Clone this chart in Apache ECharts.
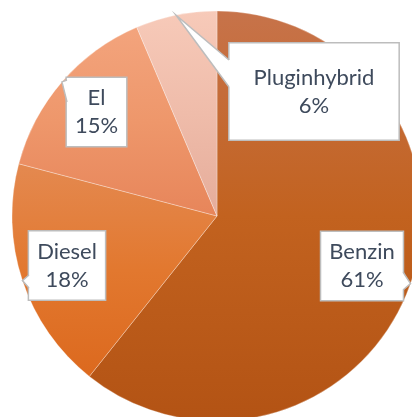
<!DOCTYPE html>
<html>
<head>
<meta charset="utf-8">
<script src="https://cdn.jsdelivr.net/npm/echarts@6/dist/echarts.min.js"></script>
<style>
  html, body { margin: 0; padding: 0; background: #fff; }
  #main { width: 412px; height: 417px; }
</style>
</head>
<body>
<div id="main"></div>
<script>
var categories = ['Benzin', 'Diesel', 'El', 'Pluginhybrid'];
var shares = [60.7, 18.4, 14.5, 6.4];

// slice gradients, top -> middle -> bottom
var topColors = ['#C7734A', '#E48950', '#F3A47D', '#F7CAB9'];
var midColors = ['#C2621F', '#E2782F', '#EE976B', '#EFBCAA'];
var bottomColors = ['#B35314', '#DC691E', '#E7855A', '#E5AC9A'];

// callout boxes: centre, padding, pointer base (offsets from centre)
var boxes = [
  { x: 362, y: 266, pad: [6, 8], base: [[41, 6], [41, 24]] },
  { x: 67, y: 265.5, pad: [6, 8], base: [[-38, 9.5], [-38, 22.5]] },
  { x: 96.5, y: 112, pad: [6, 8], base: [[-29.5, -32], [-29.5, -10]] },
  { x: 314, y: 91.5, pad: [20, 24], base: [[-85, -31.5], [-85, -4.5]] }
];

var chartDom = document.getElementById('main');
var myChart = echarts.init(chartDom);
var option;

var seriesData = categories.map(function (name, i) {
  return {
    name: name,
    value: shares[i],
    itemStyle: {
      color: {
        type: 'linear',
        x: 0, y: 0, x2: 0, y2: 1,
        colorStops: [
          { offset: 0, color: topColors[i] },
          { offset: 0.5, color: midColors[i] },
          { offset: 1, color: bottomColors[i] }
        ]
      }
    },
    label: { padding: boxes[i].pad }
  };
});

option = {
  animation: false,
  backgroundColor: '#fff',
  series: [
    {
      type: 'pie',
      center: [217, 216],
      radius: 205,
      startAngle: 90,
      clockwise: true,
      percentPrecision: 0,
      data: seriesData,
      itemStyle: {
        borderColor: 'rgba(255,255,255,0.5)',
        borderWidth: 0.6
      },
      label: {
        show: true,
        position: 'inside',
        formatter: '{b}\n{d}%',
        fontFamily: 'Lato',
        fontSize: 22,
        lineHeight: 28,
        color: '#3E4A5C',
        align: 'center',
        backgroundColor: '#fff',
        borderColor: '#BDBDBD',
        borderWidth: 1.5
      },
      labelLine: { show: false },
      labelLayout: function (p) {
        var b = boxes[p.dataIndex];
        return { x: b.x, y: b.y, align: 'center', verticalAlign: 'middle' };
      },
      emphasis: { disabled: true }
    }
  ]
};

option && myChart.setOption(option);

// callout pointers: tip on the outer arc at each slice's middle angle
var pieData = myChart.getModel().getSeriesByIndex(0).getData();
var graphics = [];
boxes.forEach(function (b, i) {
  var l = pieData.getItemLayout(i);
  var mid = (l.startAngle + l.endAngle) / 2;
  var tip = [l.cx + l.r * Math.cos(mid), l.cy + l.r * Math.sin(mid)];
  var b0 = [b.x + b.base[0][0], b.y + b.base[0][1]];
  var b1 = [b.x + b.base[1][0], b.y + b.base[1][1]];
  var inward = b.base[0][0] > 0 ? -2 : 2;
  graphics.push({
    type: 'polygon',
    z: 100,
    shape: { points: [tip, b0, [b0[0] + inward, b0[1]], [b1[0] + inward, b1[1]], b1] },
    style: { fill: '#fff' }
  });
  graphics.push({
    type: 'polyline',
    z: 101,
    shape: { points: [b0, tip, b1] },
    style: { stroke: '#BDBDBD', lineWidth: 1.5, fill: null }
  });
});
myChart.setOption({ graphic: graphics });
</script>
</body>
</html>
